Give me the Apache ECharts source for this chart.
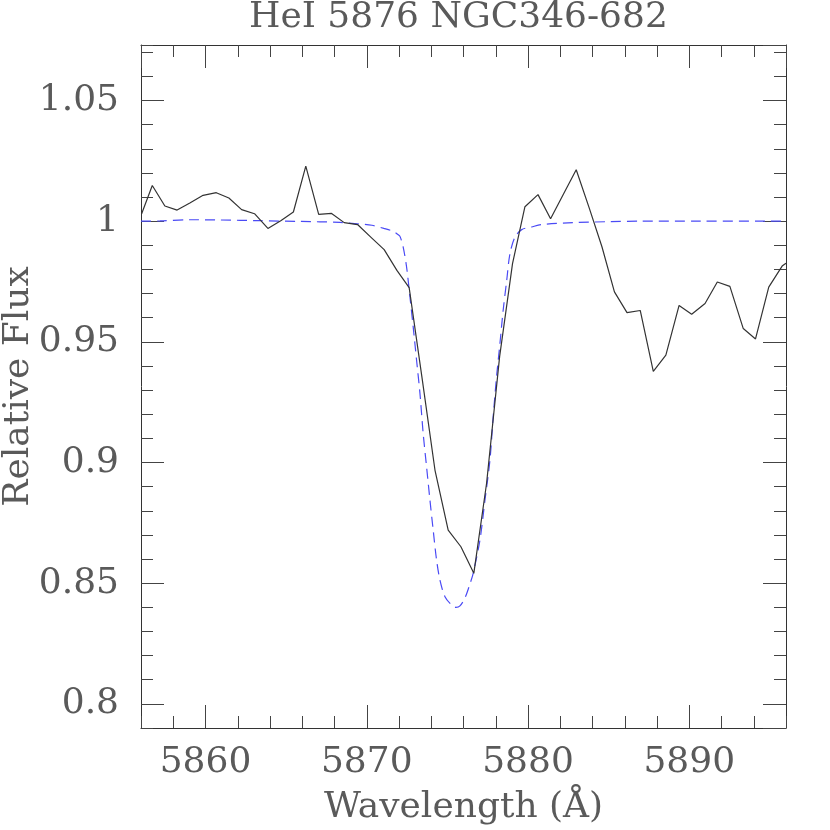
<!DOCTYPE html>
<html>
<head>
<meta charset="utf-8">
<title>HeI 5876 NGC346-682</title>
<script src="https://cdn.jsdelivr.net/npm/echarts@6/dist/echarts.min.js"></script>
<style>
  html, body { margin: 0; padding: 0; background: #fff; }
  #chart { width: 830px; height: 830px; }
</style>
</head>
<body>
<div id="chart"></div>
<script>
// observed spectrum (black)
var obsWave = [5856.04, 5856.70, 5857.48, 5858.24, 5859.03, 5859.85, 5860.67, 5861.45, 5862.24, 5863.04,
  5863.87, 5864.69, 5865.45, 5866.22, 5867.02, 5867.82, 5868.60, 5869.43, 5870.25, 5871.08,
  5871.87, 5872.63, 5873.42, 5874.23, 5875.05, 5875.84, 5876.64, 5877.43, 5878.24, 5879.04,
  5879.81, 5880.62, 5881.40, 5882.21, 5882.99, 5883.81, 5884.59, 5885.36, 5886.14, 5886.96,
  5887.77, 5888.55, 5889.37, 5890.15, 5890.98, 5891.74, 5892.52, 5893.35, 5894.11, 5894.93,
  5895.76, 5896.00];
var obsFlux = [1.0031, 1.0148, 1.0063, 1.0046, 1.0075, 1.0107, 1.0118, 1.0096, 1.0048, 1.0031,
  0.9970, 1.0003, 1.0038, 1.0228, 1.0028, 1.0032, 0.9994, 0.9986, 0.9934, 0.9882,
  0.9796, 0.9725, 0.9355, 0.8969, 0.8720, 0.8651, 0.8541, 0.8913, 0.9439, 0.9824,
  1.0060, 1.0110, 1.0010, 1.0114, 1.0213, 1.0052, 0.9893, 0.9707, 0.9621, 0.9630,
  0.9378, 0.9445, 0.9651, 0.9614, 0.9659, 0.9748, 0.9730, 0.9555, 0.9512, 0.9727,
  0.9814, 0.9826];

// fitted profile (blue dashed)
var fitWave = [5856.00, 5857.18, 5859.04, 5860.90, 5863.38, 5865.86, 5868.34, 5869.43, 5870.32, 5871.06,
  5871.64, 5871.93, 5872.06, 5872.26, 5872.47, 5872.68, 5872.88, 5873.09, 5873.30, 5873.50,
  5873.71, 5873.92, 5874.12, 5874.33, 5874.54, 5874.85, 5875.26, 5875.53, 5875.78, 5876.09,
  5876.40, 5876.60, 5877.02, 5877.33, 5877.64, 5877.84, 5878.05, 5878.26, 5878.46, 5878.68,
  5878.88, 5879.19, 5879.61, 5880.22, 5880.84, 5882.78, 5885.08, 5886.94, 5890.66, 5896.00];
var fitFlux = [1.0000, 1.0001, 1.0006, 1.0005, 1.0002, 0.9999, 0.9995, 0.9989, 0.9983, 0.9970,
  0.9958, 0.9945, 0.9937, 0.9893, 0.9810, 0.9686, 0.9562, 0.9424, 0.9286, 0.9120,
  0.8982, 0.8844, 0.8720, 0.8596, 0.8513, 0.8444, 0.8410, 0.8400, 0.8406, 0.8439,
  0.8497, 0.8541, 0.8679, 0.8844, 0.9010, 0.9189, 0.9355, 0.9493, 0.9631, 0.9755,
  0.9865, 0.9934, 0.9965, 0.9976, 0.9986, 0.9994, 0.9998, 1.0000, 1.0000, 1.0000];

var xMin = 5856, xMax = 5896;
var yMin = 0.79, yMax = 1.073;

var font = "'DejaVu Serif', 'Liberation Serif', serif";
var textColor = '#5a5a5a';
var frameColor = '#333';

function pairs(xs, ys) {
  return xs.map(function (x, i) { return [x, ys[i]]; });
}

// major / minor axes, drawn on both sides of the box
function xAx(pos, major, labels) {
  var a = {
    type: 'value', position: pos, min: xMin, max: xMax,
    axisLine: { show: major, onZero: false, lineStyle: { color: frameColor, width: 1 } },
    axisTick: { show: true, inside: true, length: major ? 23 : 12, lineStyle: { color: '#444' } },
    axisLabel: { show: false },
    splitLine: { show: false }
  };
  if (major) a.splitNumber = 4; else a.interval = 2;
  if (labels) {
    a.axisLabel = {
      show: true, showMinLabel: false, showMaxLabel: false,
      margin: 17, fontSize: 36, fontFamily: font, color: textColor,
      formatter: function (v) { return String(v); }
    };
    a.name = 'Wavelength (Å)';
    a.nameLocation = 'middle';
    a.nameGap = 62;
    a.nameMoveOverlap = false;
    a.nameTextStyle = { fontSize: 36, fontFamily: font, color: textColor };
  }
  return a;
}

function yAx(pos, major, labels) {
  var a = {
    type: 'value', position: pos, min: yMin, max: yMax,
    axisLine: { show: major, onZero: false, lineStyle: { color: frameColor, width: 1 } },
    axisTick: { show: true, inside: true, length: major ? 23 : 12, lineStyle: { color: '#444' } },
    axisLabel: { show: false },
    splitLine: { show: false }
  };
  if (major) a.splitNumber = 6; else a.interval = 0.01;
  if (labels) {
    a.axisLabel = {
      show: true, showMinLabel: false, showMaxLabel: false,
      margin: 22, fontSize: 36, fontFamily: font, color: textColor,
      formatter: function (v) { return String(+v.toFixed(2)); }
    };
    a.name = 'Relative Flux';
    a.nameLocation = 'middle';
    a.nameGap = 104;
    a.nameMoveOverlap = false;
    a.nameTextStyle = { fontSize: 36, fontFamily: font, color: textColor };
  }
  return a;
}

var chart = echarts.init(document.getElementById('chart'), null, { renderer: 'canvas' });

chart.setOption({
  animation: false,
  backgroundColor: '#fff',
  title: {
    text: 'HeI 5876 NGC346-682',
    left: 244, top: -5,
    textStyle: { fontSize: 36, fontWeight: 'normal', fontFamily: font, color: textColor }
  },
  grid: { left: 141, top: 45, width: 645, height: 683, containLabel: false, outerBoundsMode: 'none' },
  xAxis: [
    xAx('bottom', true, true),
    xAx('bottom', false, false),
    xAx('top', true, false),
    xAx('top', false, false)
  ],
  yAxis: [
    yAx('left', true, true),
    yAx('left', false, false),
    yAx('right', true, false),
    yAx('right', false, false)
  ],
  series: [
    {
      name: 'fit', type: 'line', xAxisIndex: 0, yAxisIndex: 0,
      data: pairs(fitWave, fitFlux), smooth: 0.3, symbol: 'none',
      lineStyle: { color: '#4a4af5', width: 1.2, type: [10, 6] }
    },
    {
      name: 'observed', type: 'line', xAxisIndex: 0, yAxisIndex: 0,
      data: pairs(obsWave, obsFlux), symbol: 'none',
      lineStyle: { color: '#333', width: 1.2 }
    }
  ]
});
</script>
</body>
</html>
